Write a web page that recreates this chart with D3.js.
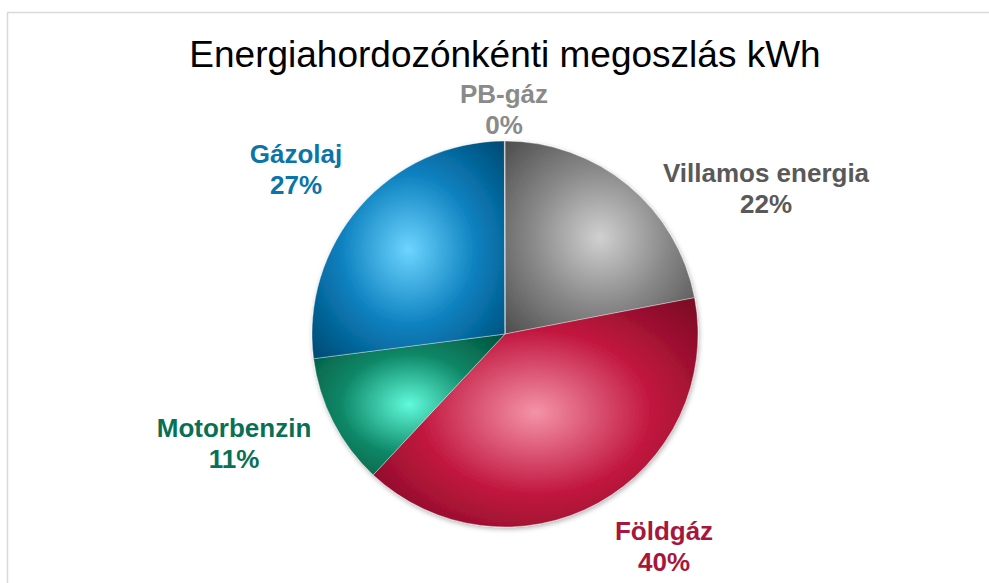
<!DOCTYPE html>
<html>
<head>
<meta charset="utf-8">
<script src="https://cdn.jsdelivr.net/npm/d3@7"></script>
<style>
  body { margin: 0; background: #fff; }
  svg { display: block; font-family: "Liberation Sans", Arial, sans-serif; }
</style>
</head>
<body>
<svg id="chart"></svg>
<script>
// chart data
const categories = ["Villamos energia", "Földgáz", "Motorbenzin", "Gázolaj", "PB-gáz"];
const shares = [22, 40, 11, 27, 0.05];
const titleText = "Energiahordozónkénti megoszlás kWh";

// gradient stops per slice: [center, middle, edge]
const sliceStops = [
    ["#d0d0d0", "#888888", "#4a4a4a"],
    ["#f493a8", "#c1163e", "#730a21"],
    ["#60fadb", "#0d8766", "#004f3a"],
    ["#6dd4ff", "#0a7fbd", "#00466e"],
    ["#c0c0c0", "#a6a6a6", "#808080"]
];
const labelColors = ["#595959", "#a6173b", "#087055", "#0b74a9", "#8a8a8a"];
// label anchor points (center x, first baseline)
const labelPos = [[766, 182], [664, 540], [234, 437], [296, 163], [504, 103]];

const width = 989, height = 583;
const cx = 505, cy = 334, radius = 193;

const svg = d3.select("#chart").attr("width", width).attr("height", height);
const defs = svg.append("defs");

// chart area frame
svg.append("rect")
    .attr("x", 7.5).attr("y", 12.5)
    .attr("width", width + 20).attr("height", height + 20)
    .attr("fill", "none")
    .attr("stroke", "#d9d9d9")
    .attr("stroke-width", 1.5);

svg.append("text")
    .attr("x", 505).attr("y", 67)
    .attr("text-anchor", "middle")
    .attr("font-size", 37)
    .attr("fill", "#000")
    .text(titleText);

const shadow = defs.append("filter").attr("id", "shadow")
    .attr("x", "-10%").attr("y", "-10%").attr("width", "120%").attr("height", "120%");
shadow.append("feDropShadow")
    .attr("dx", 1).attr("dy", 2).attr("stdDeviation", 2.5)
    .attr("flood-color", "#000").attr("flood-opacity", 0.3);

sliceStops.forEach((s, i) => {
    const g = defs.append("radialGradient").attr("id", "grad" + i)
        .attr("cx", 0.5).attr("cy", 0.5).attr("r", 0.72);
    g.append("stop").attr("offset", "0%").attr("stop-color", s[0]);
    g.append("stop").attr("offset", "50%").attr("stop-color", s[1]);
    g.append("stop").attr("offset", "100%").attr("stop-color", s[2]);
});

const pie = d3.pie().sort(null).value(d => d)(shares);
const arc = d3.arc().innerRadius(0).outerRadius(radius);

const pieGroup = svg.append("g")
    .attr("transform", `translate(${cx},${cy})`)
    .attr("filter", "url(#shadow)");

pieGroup.selectAll("path.slice")
    .data(pie)
    .join("path")
    .attr("class", "slice")
    .attr("d", arc)
    .attr("fill", (d, i) => `url(#grad${i})`)
    .attr("stroke", "rgba(255,255,255,0.45)")
    .attr("stroke-width", 0.8);

// data labels
const total = d3.sum(shares);
const labels = svg.append("g");
categories.forEach((name, i) => {
    const t = labels.append("text")
        .attr("text-anchor", "middle")
        .attr("font-size", 26)
        .attr("font-weight", "bold")
        .attr("fill", labelColors[i]);
    t.append("tspan").attr("x", labelPos[i][0]).attr("y", labelPos[i][1]).text(name);
    t.append("tspan").attr("x", labelPos[i][0]).attr("y", labelPos[i][1] + 30.5)
        .text(Math.round(shares[i] / total * 100) + "%");
});
</script>
</body>
</html>
